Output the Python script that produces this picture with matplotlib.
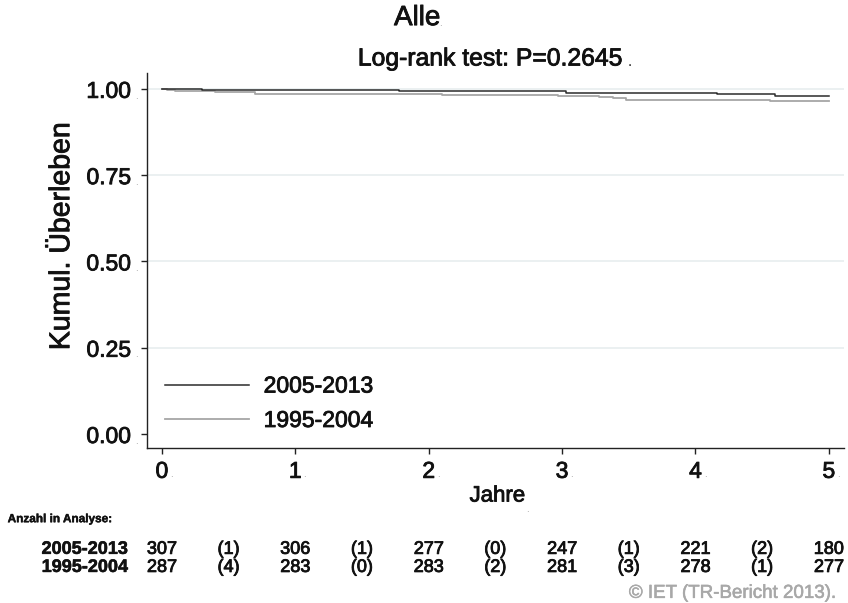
import numpy as np
import matplotlib.pyplot as plt
import matplotlib.transforms as mtransforms
import matplotlib.patheffects as pe

plt.rcParams['font.family'] = ['Liberation Sans', 'DejaVu Sans']

# Kaplan-Meier Stufen
t_neu = [0.0, 0.30, 1.78, 3.03, 4.16, 4.60, 5.0]
s_neu = [1.0, 0.9967, 0.9933, 0.9893, 0.9847, 0.9798, 0.9798]
t_alt = [0.0, 0.04, 0.10, 0.40, 0.70, 2.10, 2.97, 3.28, 3.38, 3.48, 4.56, 5.0]
s_alt = [1.0, 0.9965, 0.9930, 0.9896, 0.9861, 0.9826, 0.9791, 0.9756, 0.9721, 0.9686, 0.9651, 0.9651]

gruppen = ['2005-2013', '1995-2004']
risiko_neu = ['307', '(1)', '306', '(1)', '277', '(0)', '247', '(1)', '221', '(2)', '180']
risiko_alt = ['287', '(4)', '283', '(0)', '283', '(2)', '281', '(3)', '278', '(1)', '277']
risiko_x = [0, 0.5, 1, 1.5, 2, 2.5, 3, 3.5, 4, 4.5, 5]

yticks = [0.0, 0.25, 0.5, 0.75, 1.0]
ylabels = ['0.00', '0.25', '0.50', '0.75', '1.00']
xticks = [0, 1, 2, 3, 4, 5]
gridwerte = [0.25, 0.5, 0.75, 1.0]

dunkel = '#2b2b2b'
hell = '#a6a6a6'
punkt = '#9a9a9a'
schrift = '#111111'


def fett(t, farbe=schrift, lw=0.6):
    # Stata-Schrift wirkt etwas kraeftiger
    t.set_path_effects([pe.withStroke(linewidth=lw, foreground=farbe)])
    return t


fig = plt.figure(figsize=(8.48, 6.03), dpi=100)
ax = fig.add_axes([0.1733, 0.257, 0.8217, 0.622])

for g in gridwerte:
    ax.axhline(g, color='#e6ecee', lw=1.1, zorder=0)

ax.step(t_neu, s_neu, where='post', color=dunkel, lw=1.1, label=gruppen[0], zorder=3)
ax.step(t_alt, s_alt, where='post', color=hell, lw=1.3, label=gruppen[1], zorder=2)

ax.set_xlim(-0.112, 5.112)
ax.set_ylim(-0.0406, 1.046)
ax.spines['top'].set_visible(False)
ax.spines['right'].set_visible(False)
for s in ['left', 'bottom']:
    ax.spines[s].set_linewidth(1.0)
    ax.spines[s].set_color('#222222')

ax.set_yticks(yticks)
ax.set_yticklabels(ylabels)
ax.set_xticks(xticks)
ax.tick_params(axis='both', length=4.5, width=1.0, color='#222222', labelsize=16.5,
               labelcolor=schrift)
ax.tick_params(axis='y', pad=7)
ax.tick_params(axis='x', pad=4)
for lab in ax.get_yticklabels() + ax.get_xticklabels():
    fett(lab)

# kleine graue Punkte hinter den Beschriftungen (wie im Original)
for v in yticks:
    ax.annotate('.', xy=(0, v), xycoords=('axes fraction', 'data'), xytext=(-7.5, -7),
                textcoords='offset points', fontsize=7, color=punkt, ha='center')
for v in xticks:
    ax.annotate('.', xy=(v, 0), xycoords=('data', 'axes fraction'), xytext=(6, -21),
                textcoords='offset points', fontsize=7, color=punkt, ha='left')

fett(ax.set_ylabel('Kumul. Überleben', fontsize=20.5, color=schrift))
ax.yaxis.set_label_coords(-0.103, 0.565)
fett(ax.set_xlabel('Jahre', fontsize=16, color=schrift))
ax.xaxis.set_label_coords(0.503, -0.100)
ax.annotate('.', xy=(0.503, -0.100), xycoords='axes fraction', xytext=(21, -19),
            textcoords='offset points', fontsize=7, color=punkt)

leg = ax.legend(loc='lower left', bbox_to_anchor=(0.003, 0.0), frameon=False, fontsize=16.5,
                handlelength=3.65, handletextpad=0.65, labelspacing=0.5, borderaxespad=0.3)
for txt in leg.get_texts():
    txt.set_color(schrift)
    fett(txt)
for txt in leg.get_texts()[1:]:
    pass

fett(fig.text(0.492, 0.970, 'Alle', ha='center', va='center', fontsize=20, color=schrift))
fig.text(0.518, 0.962, '.', ha='left', va='center', fontsize=7, color=punkt)
fett(fig.text(0.578, 0.903, 'Log-rank test: P=0.2645', ha='center', va='center', fontsize=17.8,
              color=schrift))
fig.text(0.740, 0.898, '.', ha='left', va='center', fontsize=11, color='#222222')

# Anzahl unter Risiko
fett(fig.text(0.009, 0.139, 'Anzahl in Analyse:', fontsize=8.5, fontweight='bold', va='center',
              color=schrift), lw=0.3)
trans = mtransforms.blended_transform_factory(ax.transData, fig.transFigure)
for zeile, (name, werte) in enumerate(zip(gruppen, [risiko_neu, risiko_alt])):
    yy = 0.089 - zeile * 0.030
    fett(fig.text(0.151, yy, name, ha='right', va='center', fontsize=13, fontweight='bold',
                  color=schrift), lw=0.4)
    for xv, w in zip(risiko_x, werte):
        fett(ax.text(xv, yy, w, ha='center', va='center', fontsize=13, transform=trans,
                     clip_on=False, color=schrift))

fett(fig.text(0.986, 0.016, '© IET (TR-Bericht 2013).', ha='right', va='center', fontsize=13.5,
              color='#a8a8a8'), farbe='#a8a8a8', lw=0.4)

fig.savefig('out.png', dpi=100)
